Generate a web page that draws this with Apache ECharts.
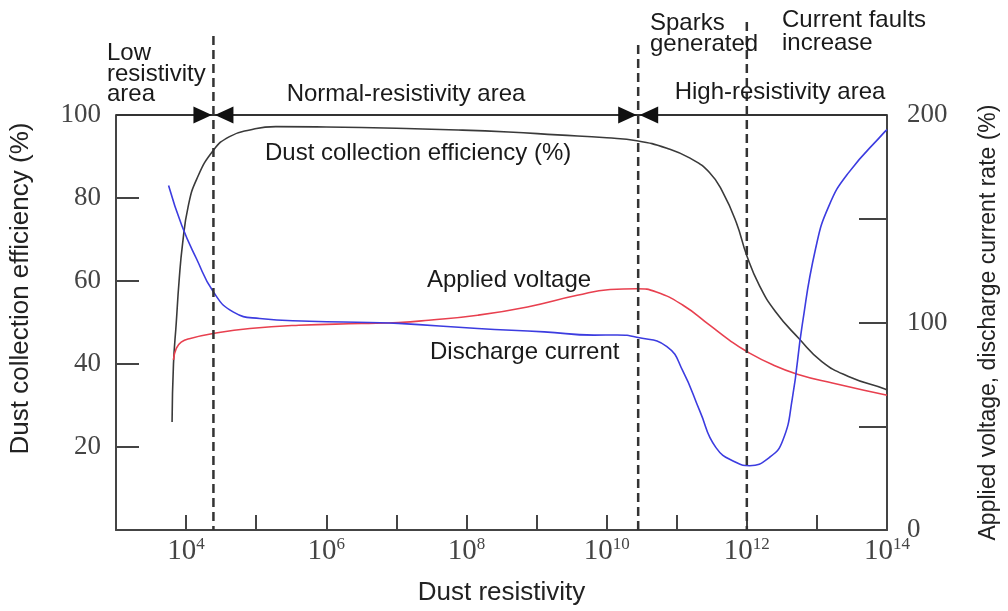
<!DOCTYPE html>
<html><head><meta charset="utf-8">
<script src="https://cdn.jsdelivr.net/npm/echarts@6/dist/echarts.min.js"></script>
<style>html,body{margin:0;padding:0;background:#fff}#c{width:1008px;height:611px}</style>
</head><body><div id="c"></div>
<script>
// Dust resistivity given as log10 exponent (10^n)
const xExponents = [4, 6, 8, 10, 12, 14];
const leftTicks = [20, 40, 60, 80, 100];
const rightTickLabels = [0, 100, 200];
const areaBoundaries = [4.39, 10.45, 12.0];

const effX = [3.80, 3.82, 3.86, 3.90, 3.95, 4.03, 4.15, 4.39, 4.62, 4.91, 5.28, 6.0, 7.0, 7.88, 8.6, 9.3, 10.0, 10.43, 10.86, 11.19, 11.47, 11.66, 11.85, 12.0, 12.18, 12.41, 12.74, 13.07, 13.45, 13.97, 14.0];
const effY = [26, 40, 50, 60, 69, 78, 84.5, 91.5, 94.8, 96.4, 97.2, 97.1, 96.8, 96.4, 95.9, 95.2, 94.5, 93.8, 92.0, 89.6, 86.1, 81.3, 74.1, 66.1, 58.9, 52.6, 46.2, 40.6, 37.0, 34.0, 33.8];

const voltX = [3.82, 3.86, 3.93, 4.06, 4.39, 4.91, 5.61, 6.5, 7.03, 7.46, 8.16, 8.87, 9.58, 10.05, 10.43, 10.71, 11.09, 11.47, 11.75, 12.0, 12.37, 12.72, 13.22, 13.97, 14.0];
const voltY = [82, 87.5, 90.5, 92.3, 94.7, 97.1, 98.7, 99.5, 100, 101.1, 103.5, 107.5, 113.1, 115.9, 116.3, 114.7, 108.3, 98.7, 91.5, 86.0, 79.6, 75.1, 70.8, 65.2, 65.0];

const currX = [3.75, 3.94, 4.15, 4.39, 4.67, 5.05, 5.76, 6.61, 7.03, 8.16, 9.11, 9.82, 10.15, 10.43, 10.86, 11.09, 11.33, 11.56, 11.85, 12.04, 12.32, 12.51, 12.65, 12.79, 12.98, 13.17, 13.45, 13.97, 14.0];
const currY = [166, 146.6, 130.6, 114.7, 105.1, 101.9, 100.6, 100, 99.6, 97.1, 95.5, 93.9, 94.0, 92.9, 88.4, 76.4, 57.3, 39.7, 32.5, 31.0, 34.9, 42.9, 63.6, 98.7, 135.4, 156.1, 172.1, 192.0, 193];

const zip = (a, b) => a.map((v, i) => [v, b[i]]);
const axisColor = '#444';
const serif = 'Liberation Serif';
const sans = 'Liberation Sans';

const chart = echarts.init(document.getElementById('c'), null, {renderer: 'canvas'});
chart.setOption({
  animation: false,
  backgroundColor: '#fff',
  grid: {left: 115, right: 115, top: 115, bottom: 78, containLabel: false},
  xAxis: {
    type: 'value', min: 3, max: 14, interval: 1,
    name: 'Dust resistivity', nameLocation: 'middle', nameGap: 50,
    nameTextStyle: {fontFamily: sans, fontSize: 26, color: '#222'},
    axisLine: {lineStyle: {color: axisColor, width: 2}},
    axisTick: {inside: true, length: 15, lineStyle: {color: axisColor, width: 2}},
    splitLine: {show: false},
    axisLabel: {
      margin: 6,
      formatter: v => xExponents.includes(v) ? '{b|10}{s|' + v + '}' : '',
      rich: {
        b: {fontFamily: serif, fontSize: 29, color: axisColor, lineHeight: 30},
        s: {fontFamily: serif, fontSize: 17, color: axisColor, verticalAlign: 'top', lineHeight: 30, padding: [0, 0, 12, 0]}
      }
    }
  },
  yAxis: [{
    type: 'value', min: 0, max: 100, interval: 20, position: 'left',
    name: 'Dust collection efficiency (%)', nameLocation: 'middle', nameGap: 82, nameRotate: 90,
    nameTextStyle: {fontFamily: sans, fontSize: 26, color: '#222', padding: [0, 0, 0, 68]},
    axisLine: {show: true, lineStyle: {color: axisColor, width: 2}},
    axisTick: {show: true, inside: true, length: 23, lineStyle: {color: axisColor, width: 2}},
    splitLine: {show: false},
    axisLabel: {margin: 15, fontFamily: serif, fontSize: 27, color: axisColor,
      formatter: v => leftTicks.includes(v) ? String(v) : ''}
  }, {
    type: 'value', min: 0, max: 200, interval: 50, position: 'right',
    name: 'Applied voltage, discharge current rate (%)', nameLocation: 'middle', nameGap: 90, nameRotate: 90,
    nameTextStyle: {fontFamily: sans, fontSize: 23, color: '#222'},
    axisLine: {show: true, lineStyle: {color: axisColor, width: 2}},
    axisTick: {show: true, inside: true, length: 28, lineStyle: {color: axisColor, width: 2}},
    splitLine: {show: false},
    axisLabel: {margin: 20, fontFamily: serif, fontSize: 27, color: axisColor, padding: [0, 0, 16, 0],
      formatter: v => rightTickLabels.includes(v) ? String(v) : ''}
  }],
  series: [{
    name: 'Dust collection efficiency (%)', type: 'line', yAxisIndex: 0,
    data: zip(effX, effY), symbol: 'none', smooth: 0.5,
    lineStyle: {color: '#3a3a3a', width: 1.6}
  }, {
    name: 'Applied voltage', type: 'line', yAxisIndex: 1,
    data: zip(voltX, voltY), symbol: 'none', smooth: 0.5,
    lineStyle: {color: '#e8404f', width: 1.6}
  }, {
    name: 'Discharge current', type: 'line', yAxisIndex: 1,
    data: zip(currX, currY), symbol: 'none', smooth: 0.5,
    lineStyle: {color: '#3c3ce0', width: 1.6}
  }]
});

const xp = v => chart.convertToPixel({xAxisIndex: 0}, v);
const yTop = chart.convertToPixel({yAxisIndex: 0}, 100);
const yBot = chart.convertToPixel({yAxisIndex: 0}, 0);
const xL = xp(3), xR = xp(14);
const dashTops = [36, 45, 22];
const g = [];
g.push({type: 'line', z: 10, shape: {x1: xL, y1: yTop, x2: xR, y2: yTop}, style: {stroke: '#333', lineWidth: 2}});
areaBoundaries.forEach((b, i) => {
  const x = xp(b);
  g.push({type: 'line', z: 10, shape: {x1: x, y1: dashTops[i], x2: x, y2: yBot}, style: {stroke: '#333', lineWidth: 2.5, lineDash: [9, 5]}});
  if (i < 2) {
    g.push({type: 'polygon', z: 11, shape: {points: [[x - 20, yTop - 8.5], [x - 20, yTop + 8.5], [x - 1.5, yTop]]}, style: {fill: '#111'}});
    g.push({type: 'polygon', z: 11, shape: {points: [[x + 20, yTop - 8.5], [x + 20, yTop + 8.5], [x + 1.5, yTop]]}, style: {fill: '#111'}});
  }
});
const txt = (text, x, y, align) => ({type: 'text', z: 12, x: x, y: y,
  style: {text: text, fill: '#1a1a1a', fontFamily: sans, fontSize: 24, align: align || 'left', verticalAlign: 'middle', textAlign: align || 'left', textVerticalAlign: 'middle'}});
g.push(txt('Low', 107, 53));
g.push(txt('resistivity', 107, 74));
g.push(txt('area', 107, 94));
g.push(txt('Normal-resistivity area', 406, 94, 'center'));
g.push(txt('High-resistivity area', 780, 92, 'center'));
g.push(txt('Sparks', 650, 23));
g.push(txt('generated', 650, 44));
g.push(txt('Current faults', 782, 20));
g.push(txt('increase', 782, 43));
g.push(txt('Dust collection efficiency (%)', 265, 153));
g.push(txt('Applied voltage', 427, 280));
g.push(txt('Discharge current', 430, 352));
chart.setOption({graphic: g});
</script>
</body></html>
